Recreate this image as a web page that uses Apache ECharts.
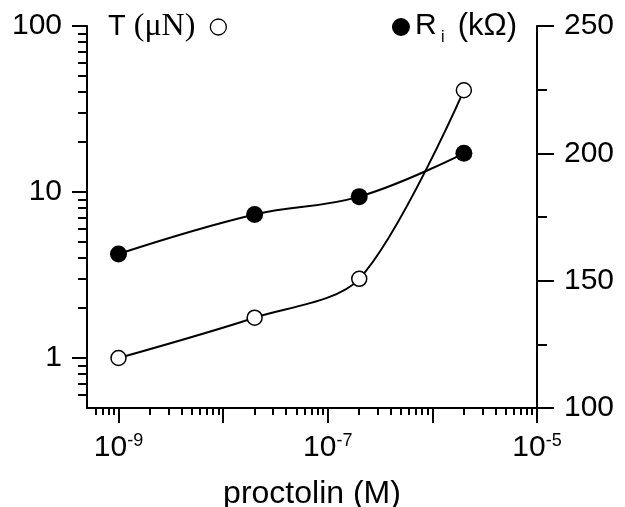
<!DOCTYPE html>
<html>
<head>
<meta charset="utf-8">
<script src="https://cdn.jsdelivr.net/npm/echarts@6/dist/echarts.min.js"></script>
<style>
  html, body { margin: 0; padding: 0; background: #fff; }
  #chart { width: 625px; height: 507px; }
</style>
</head>
<body>
<div id="chart"></div>
<script>
// proctolin concentration (M)
const concentrations = [1e-9, 2e-8, 2e-7, 2e-6];
// tension T (uN), left log axis
const tension = [1.0, 1.75, 3.0, 41];
// input resistance Ri (kOhm), right axis
const resistance = [160.5, 176, 183, 200];

// axis ticks, as exponents (log10)
const xMajorTicks = [-9, -8, -7, -6, -5];
const xLabelTicks = [-9, -7, -5];
const xMinorMantissa = [2, 3, 4, 5, 6, 7, 8, 9];
const yMajorTicks = [0, 1, 2];
const yMinorValues = [0.6, 0.7, 0.8, 0.9, 2, 3, 4, 5, 6, 7, 8, 9, 20, 30, 40, 50, 60, 70, 80, 90];

const xMin = 5e-10, xMax = 1e-5;
const yMin = 0.5, yMax = 100;

let xMinorValues = [6e-10, 7e-10, 8e-10, 9e-10];
for (let e = -9; e < -5; e++) {
  xMinorMantissa.forEach(m => xMinorValues.push(m * Math.pow(10, e)));
}

const FONT = "Liberation Sans";
const black = "#000";

const myChart = echarts.init(document.getElementById("chart"));

const hiddenAxis = {
  axisLine: { show: false },
  axisTick: { show: false },
  axisLabel: { show: false },
  splitLine: { show: false }
};

let option = {
  animation: false,
  backgroundColor: "#fff",
  grid: { left: 87, right: 88, top: 26, bottom: 99, containLabel: false, outerBoundsMode: "none" },
  legend: [
    {
      left: 103,
      top: 6,
      align: "right",
      itemWidth: 20,
      itemHeight: 16,
      selectedMode: false,
      data: [{ name: "T", icon: "circle", itemStyle: { color: "#fff", borderColor: black, borderWidth: 1.3 } }],
      formatter: () => "{a|T }{b|(μN) }",
      textStyle: {
        rich: {
          a: { fontFamily: FONT, fontSize: 29, color: black, lineHeight: 32 },
          b: { fontFamily: "Liberation Serif", fontSize: 32, color: black, lineHeight: 32 }
        }
      }
    },
    {
      right: 103,
      top: 6,
      align: "left",
      itemWidth: 18,
      itemHeight: 18,
      selectedMode: false,
      data: [{ name: "Ri", icon: "circle", itemStyle: { color: black, borderWidth: 0 } }],
      formatter: () => "{r|R}{s| i }{k| (kΩ)}",
      textStyle: {
        rich: {
          r: { fontFamily: FONT, fontSize: 30, color: black, lineHeight: 32, verticalAlign: "top" },
          k: { fontFamily: FONT, fontSize: 31, color: black, lineHeight: 32, verticalAlign: "top" },
          s: { fontFamily: FONT, fontSize: 16, color: black, lineHeight: 16, verticalAlign: "top", padding: [19, 0, 0, 0] }
        }
      }
    }
  ],
  xAxis: [
    Object.assign({ type: "log", min: xMin, max: xMax, position: "bottom" }, hiddenAxis),
    {
      type: "value",
      position: "bottom",
      min: Math.log10(xMin),
      max: Math.log10(xMax),
      splitLine: { show: false },
      axisLine: { show: true, onZero: false, lineStyle: { color: black, width: 2 } },
      axisTick: { show: true, length: 15, customValues: xMajorTicks, lineStyle: { color: black, width: 2 } },
      axisLabel: {
        customValues: xLabelTicks,
        margin: 24,
        formatter: v => "{b|10}{s|" + Math.round(v) + "}",
        rich: {
          b: { fontFamily: FONT, fontSize: 30, color: black, lineHeight: 32 },
          s: { fontFamily: FONT, fontSize: 18, color: black, lineHeight: 18, verticalAlign: "top" }
        }
      },
      name: "proctolin (M)",
      nameLocation: "middle",
      nameGap: 70,
      nameTextStyle: { fontFamily: FONT, fontSize: 32, color: black }
    },
    {
      type: "value",
      position: "bottom",
      min: Math.log10(xMin),
      max: Math.log10(xMax),
      splitLine: { show: false },
      axisLine: { show: false, onZero: false },
      axisLabel: { show: false },
      axisTick: { show: true, length: 7, customValues: xMinorValues.map(v => Math.log10(v)), lineStyle: { color: black, width: 2 } }
    }
  ],
  yAxis: [
    Object.assign({ type: "log", min: yMin, max: yMax, position: "left" }, hiddenAxis),
    {
      type: "value",
      position: "right",
      min: 100,
      max: 250,
      interval: 50,
      splitLine: { show: false },
      axisLine: { show: true, onZero: false, lineStyle: { color: black, width: 2 } },
      axisTick: { show: true, length: 17, lineStyle: { color: black, width: 2 } },
      minorTick: { show: true, splitNumber: 2, length: 10, lineStyle: { color: black, width: 2 } },
      axisLabel: { margin: 27, fontFamily: FONT, fontSize: 30, color: black }
    },
    {
      type: "value",
      position: "left",
      min: Math.log10(yMin),
      max: Math.log10(yMax),
      splitLine: { show: false },
      axisLine: { show: true, onZero: false, lineStyle: { color: black, width: 2 } },
      axisTick: { show: true, length: 15, customValues: yMajorTicks, lineStyle: { color: black, width: 2 } },
      axisLabel: {
        customValues: yMajorTicks,
        margin: 25,
        fontFamily: FONT,
        fontSize: 30,
        color: black,
        formatter: v => String(Math.round(Math.pow(10, v)))
      }
    },
    {
      type: "value",
      position: "left",
      min: Math.log10(yMin),
      max: Math.log10(yMax),
      splitLine: { show: false },
      axisLine: { show: false, onZero: false },
      axisLabel: { show: false },
      axisTick: { show: true, length: 9, customValues: yMinorValues.map(v => Math.log10(v)), lineStyle: { color: black, width: 2 } }
    }
  ],
  series: [
    {
      name: "T",
      type: "line",
      xAxisIndex: 0,
      yAxisIndex: 0,
      smooth: 0.3,
      symbol: "circle",
      symbolSize: 15,
      showAllSymbol: true,
      itemStyle: { color: "#fff", borderColor: black, borderWidth: 1.5 },
      lineStyle: { color: black, width: 2 },
      z: 3,
      data: concentrations.map((c, i) => [c, tension[i]])
    },
    {
      name: "Ri",
      type: "line",
      xAxisIndex: 0,
      yAxisIndex: 1,
      smooth: 0.4,
      symbol: "circle",
      symbolSize: 17,
      itemStyle: { color: black },
      lineStyle: { color: black, width: 2 },
      z: 3,
      data: concentrations.map((c, i) => [c, resistance[i]])
    }
  ]
};

myChart.setOption(option);
window.addEventListener("resize", () => myChart.resize());
</script>
</body>
</html>
